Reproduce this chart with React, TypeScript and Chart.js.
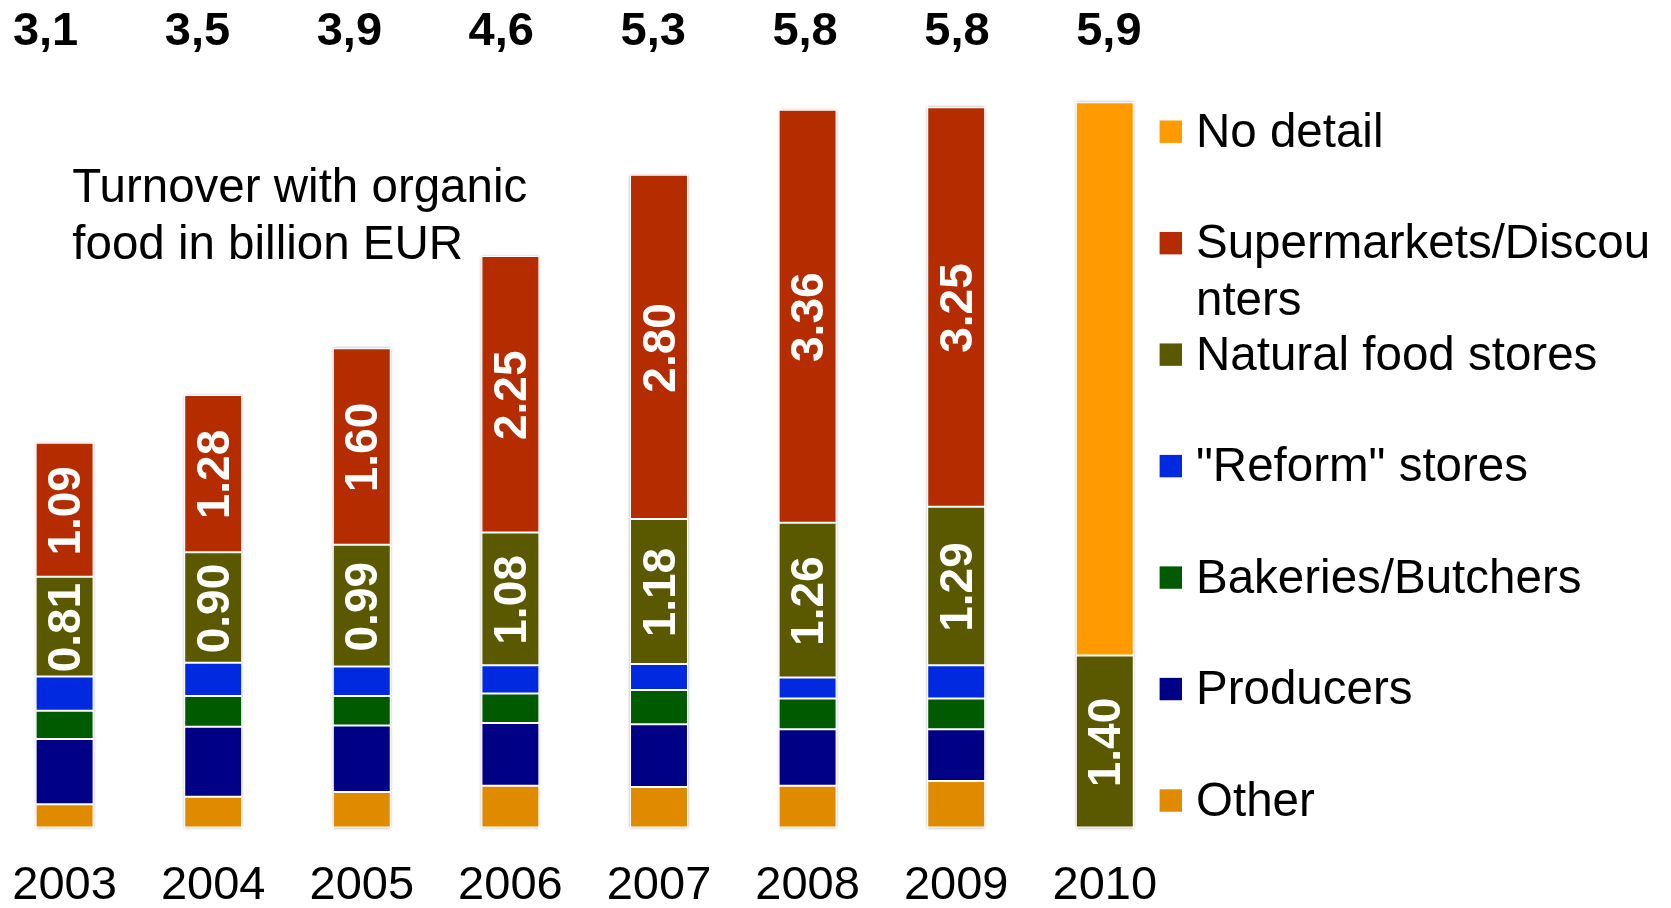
import React, { useEffect, useRef } from "react";
import { Chart, registerables } from "chart.js";
Chart.register(...registerables);

const years = ["2003", "2004", "2005", "2006", "2007", "2008", "2009", "2010"];
const totals = [3.1, 3.5, 3.9, 4.6, 5.3, 5.8, 5.8, 5.9];
const other = [0.19, 0.25, 0.29, 0.34, 0.33, 0.34, 0.38, null];
const producers = [0.53, 0.57, 0.54, 0.51, 0.51, 0.46, 0.42, null];
const bakeries = [0.23, 0.25, 0.24, 0.24, 0.28, 0.25, 0.25, null];
const reform = [0.28, 0.27, 0.24, 0.23, 0.21, 0.17, 0.27, null];
const natural = [0.81, 0.9, 0.99, 1.08, 1.18, 1.26, 1.29, 1.4];
const supermarkets = [1.09, 1.28, 1.6, 2.25, 2.8, 3.36, 3.25, null];
const noDetail = [null, null, null, null, null, null, null, 4.5];

const seriesValues = [other, producers, bakeries, reform, natural, supermarkets, noDetail];
const seriesLabels = [
  "Other",
  "Producers",
  "Bakeries/Butchers",
  "\"Reform\" stores",
  "Natural food stores",
  "Supermarkets/Discounters",
  "No detail",
];
const seriesColors = ["#E08A00", "#000087", "#005A00", "#0029E0", "#5B5900", "#B42C00", "#FF9A00"];
const labelledSeries = [4, 5];
const noteLines = ["Turnover with organic", "food in billion EUR"];

const FONT = "'Liberation Sans', Arial, Helvetica, sans-serif";

function wrapChars(ctx: CanvasRenderingContext2D, text: string, maxW: number): string[] {
  const lines: string[] = [];
  let cur = "";
  for (const ch of text) {
    if (cur && ctx.measureText(cur + ch).width > maxW) {
      lines.push(cur);
      cur = ch;
    } else cur += ch;
  }
  if (cur) lines.push(cur);
  return lines;
}

const decorPlugin = {
  id: "decor",
  beforeDatasetsDraw(chart: any) {
    const ctx = chart.ctx as CanvasRenderingContext2D;
    const yScale = chart.scales.y;
    const base = yScale.getPixelForValue(0);
    for (let i = 0; i < years.length; i++) {
      let top = Infinity;
      let x = 0;
      let w = 0;
      chart.data.datasets.forEach((ds: any, di: number) => {
        if (ds.data[i] == null) return;
        const el = chart.getDatasetMeta(di).data[i] as any;
        top = Math.min(top, el.y);
        x = el.x;
        w = el.width;
      });
      if (!isFinite(top)) continue;
      ctx.save();
      ctx.shadowColor = "rgba(0,0,0,0.35)";
      ctx.shadowBlur = 3;
      ctx.fillStyle = "#ffffff";
      ctx.fillRect(x - w / 2, top, w, base - top);
      ctx.restore();
    }
  },
  afterDatasetsDraw(chart: any) {
    const ctx = chart.ctx as CanvasRenderingContext2D;
    // values inside segments
    ctx.save();
    ctx.fillStyle = "#ffffff";
    ctx.font = `bold 46px ${FONT}`;
    ctx.textAlign = "center";
    ctx.textBaseline = "middle";
    labelledSeries.forEach((di) => {
      const meta = chart.getDatasetMeta(di);
      const data = chart.data.datasets[di].data;
      meta.data.forEach((el: any, i: number) => {
        const v = data[i];
        if (v == null) return;
        const cy = (el.y + el.base) / 2;
        ctx.save();
        ctx.translate(el.x, cy + 1);
        ctx.rotate(-Math.PI / 2);
        ctx.fillText(Number(v).toFixed(2), 0, 3);
        ctx.restore();
      });
    });
    ctx.restore();

    // totals on top
    const xScale = chart.scales.x;
    ctx.save();
    ctx.fillStyle = "#000000";
    ctx.font = `bold 47px ${FONT}`;
    ctx.textAlign = "center";
    ctx.textBaseline = "alphabetic";
    totals.forEach((t, i) => {
      const px = xScale.getPixelForValue(i);
      ctx.fillText(t.toFixed(1).replace(".", ","), 1.0222 * px - 20.9, 45);
    });
    ctx.restore();

    // note text
    ctx.save();
    ctx.fillStyle = "#000000";
    ctx.font = `47.5px ${FONT}`;
    ctx.textAlign = "left";
    ctx.textBaseline = "alphabetic";
    noteLines.forEach((line, k) => ctx.fillText(line, 92.3, 202 + k * 56.7));
    ctx.restore();

    // legend (reversed)
    ctx.save();
    ctx.font = `47.5px ${FONT}`;
    ctx.textAlign = "left";
    ctx.textBaseline = "alphabetic";
    const order = seriesLabels.map((_, i) => i).reverse();
    const sqX = 1179.6;
    const sq = 22.4;
    const textX = 1216;
    const maxW = chart.width - textX - 2;
    order.forEach((si, k) => {
      const cy = 131.7 + k * 111.47;
      ctx.fillStyle = seriesColors[si];
      ctx.fillRect(sqX, cy - sq / 2, sq, sq);
      ctx.fillStyle = "#000000";
      const lines = wrapChars(ctx, seriesLabels[si], maxW);
      lines.forEach((ln, j) => ctx.fillText(ln, textX, cy + 15 + j * 56.5));
    });
    ctx.restore();
  },
};

export default function App() {
  const ref = useRef<HTMLCanvasElement | null>(null);
  useEffect(() => {
    const canvas = ref.current;
    if (!canvas) return;
    const chart = new Chart(canvas, {
      type: "bar",
      data: {
        labels: years,
        datasets: seriesValues.map((d, i) => ({
          label: seriesLabels[i],
          data: d as any,
          backgroundColor: seriesColors[i],
          borderColor: "#ffffff",
          borderWidth: 1,
          borderSkipped: false,
          categoryPercentage: 1,
          barPercentage: 0.39,
        })),
      },
      options: {
        responsive: false,
        animation: false,
        devicePixelRatio: 1,
        layout: { padding: { left: 10.3, right: 491.9, top: 31, bottom: 0 } },
        plugins: { legend: { display: false }, tooltip: { enabled: false } },
        scales: {
          x: {
            stacked: true,
            grid: { display: false, drawTicks: false },
            border: { display: false },
            ticks: {
              padding: 30,
              color: "#000000",
              maxRotation: 0,
              autoSkip: false,
              font: { family: FONT, size: 47 },
            },
          },
          y: { stacked: true, display: false, min: 0, max: 6.48 },
        },
      },
      plugins: [decorPlugin],
    });
    return () => chart.destroy();
  }, []);
  return (
    <div
      style={{
        position: "fixed",
        left: 0,
        top: 0,
        width: 1671,
        height: 908,
        overflow: "hidden",
        background: "#ffffff",
      }}
    >
      <canvas
        ref={ref}
        width={1691}
        height={944}
        style={{ position: "absolute", left: -20, top: 0, width: 1691, height: 944 }}
      />
    </div>
  );
}
